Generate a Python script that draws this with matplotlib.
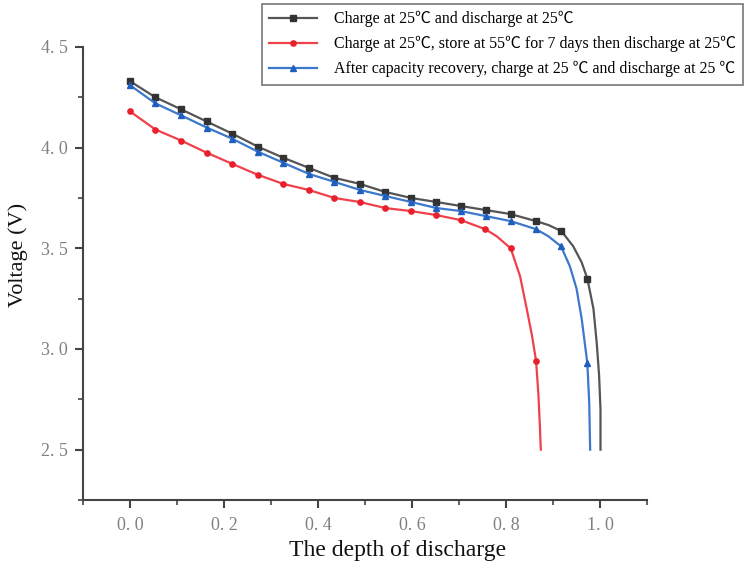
import matplotlib
matplotlib.use('Agg')
import matplotlib.pyplot as plt
from matplotlib.ticker import MultipleLocator, FuncFormatter

# depth of discharge / voltage (markers + some unmarked curve points)
x_black = [0.0, 0.054, 0.109, 0.163, 0.217, 0.272, 0.326, 0.380, 0.435, 0.489, 0.543,
           0.598, 0.652, 0.704, 0.757, 0.810, 0.864, 0.891, 0.918, 0.943, 0.961, 0.973,
           0.986, 0.993, 0.998, 1.001, 1.001]
y_black = [4.33, 4.25, 4.19, 4.13, 4.07, 4.005, 3.95, 3.90, 3.85, 3.82, 3.78,
           3.75, 3.73, 3.71, 3.69, 3.67, 3.635, 3.615, 3.585, 3.51, 3.43, 3.35,
           3.20, 3.03, 2.87, 2.70, 2.50]
mk_black = list(range(17)) + [18, 21]

x_red = [0.0, 0.054, 0.109, 0.163, 0.217, 0.272, 0.326, 0.380, 0.435, 0.489, 0.543,
         0.598, 0.652, 0.704, 0.756, 0.780, 0.810, 0.830, 0.844, 0.855, 0.864,
         0.869, 0.872, 0.874]
y_red = [4.18, 4.09, 4.035, 3.975, 3.92, 3.865, 3.82, 3.79, 3.75, 3.73, 3.70,
         3.685, 3.665, 3.64, 3.595, 3.56, 3.50, 3.36, 3.20, 3.07, 2.94,
         2.77, 2.62, 2.50]
mk_red = list(range(15)) + [16, 20]

x_blue = [0.0, 0.054, 0.109, 0.163, 0.217, 0.272, 0.326, 0.380, 0.435, 0.489, 0.543,
          0.598, 0.652, 0.704, 0.757, 0.810, 0.864, 0.890, 0.917, 0.936, 0.950, 0.961,
          0.973, 0.977, 0.979]
y_blue = [4.31, 4.22, 4.16, 4.10, 4.045, 3.98, 3.925, 3.87, 3.83, 3.79, 3.76,
          3.73, 3.70, 3.685, 3.66, 3.635, 3.595, 3.56, 3.51, 3.41, 3.30, 3.15,
          2.93, 2.735, 2.50]
mk_blue = list(range(17)) + [18, 22]

labels = ['Charge at 25\u2103 and discharge at 25\u2103',
          'Charge at 25\u2103, store at 55\u2103 for 7 days then discharge at 25\u2103',
          'After capacity recovery, charge at 25 \u2103 and discharge at 25 \u2103']

serif = ['Liberation Serif', 'Noto Sans CJK SC', 'DejaVu Serif']
plt.rcParams['font.family'] = serif

fig = plt.figure(figsize=(7.48, 5.66), dpi=100)
ax = fig.add_axes([0.111, 0.1166, 0.754, 0.8004])

ax.plot(x_black, y_black, color='#555555', lw=1.6, marker='s', ms=3.8,
        markevery=mk_black, mfc='#333333', mec='#333333', label=labels[0])
ax.plot(x_red, y_red, color='#f0414b', lw=1.6, marker='o', ms=3.8,
        markevery=mk_red, mfc='#e8202c', mec='#e8202c', label=labels[1])
ax.plot(x_blue, y_blue, color='#3c78cc', lw=1.6, marker='^', ms=4.2,
        markevery=mk_blue, mfc='#1f5fbf', mec='#1f5fbf', label=labels[2])

ax.set_xlim(-0.1, 1.1)
ax.set_ylim(2.25, 4.5)
ax.xaxis.set_major_locator(MultipleLocator(0.2))
ax.xaxis.set_minor_locator(MultipleLocator(0.1))
ax.yaxis.set_major_locator(MultipleLocator(0.5))
ax.yaxis.set_minor_locator(MultipleLocator(0.25))
fmt = FuncFormatter(lambda v, p: f'{v:.1f}'.replace('.', '. '))
ax.xaxis.set_major_formatter(fmt)
ax.yaxis.set_major_formatter(fmt)

for s in ['top', 'right']:
    ax.spines[s].set_visible(False)
for s in ['left', 'bottom']:
    ax.spines[s].set_color('#444444')
    ax.spines[s].set_linewidth(1.5)
ax.tick_params(which='major', direction='out', length=6, width=1.5, color='#444444',
               labelsize=13, labelcolor='#808080')
ax.tick_params(axis='x', which='major', pad=6)
ax.tick_params(axis='y', which='major', pad=5)
ax.tick_params(which='minor', direction='out', length=3.5, width=1.2, color='#444444')

ax.set_xlabel('The depth of discharge', fontsize=17, color='#111111')
ax.xaxis.set_label_coords(0.557, -0.088)
ax.set_ylabel('Voltage (V)', fontsize=16, color='#111111')
ax.yaxis.set_label_coords(-0.097, 0.54)

leg = fig.legend(loc='upper left', bbox_to_anchor=(262 / 748, 1 - 4 / 566),
                 fontsize=11.4, frameon=True, fancybox=False, handlelength=3.0,
                 handletextpad=1.1, labelspacing=0.55, borderpad=0.45, borderaxespad=0)
leg.get_frame().set_edgecolor('#555555')
leg.get_frame().set_linewidth(1.2)

fig.savefig('out.png', dpi=100)
